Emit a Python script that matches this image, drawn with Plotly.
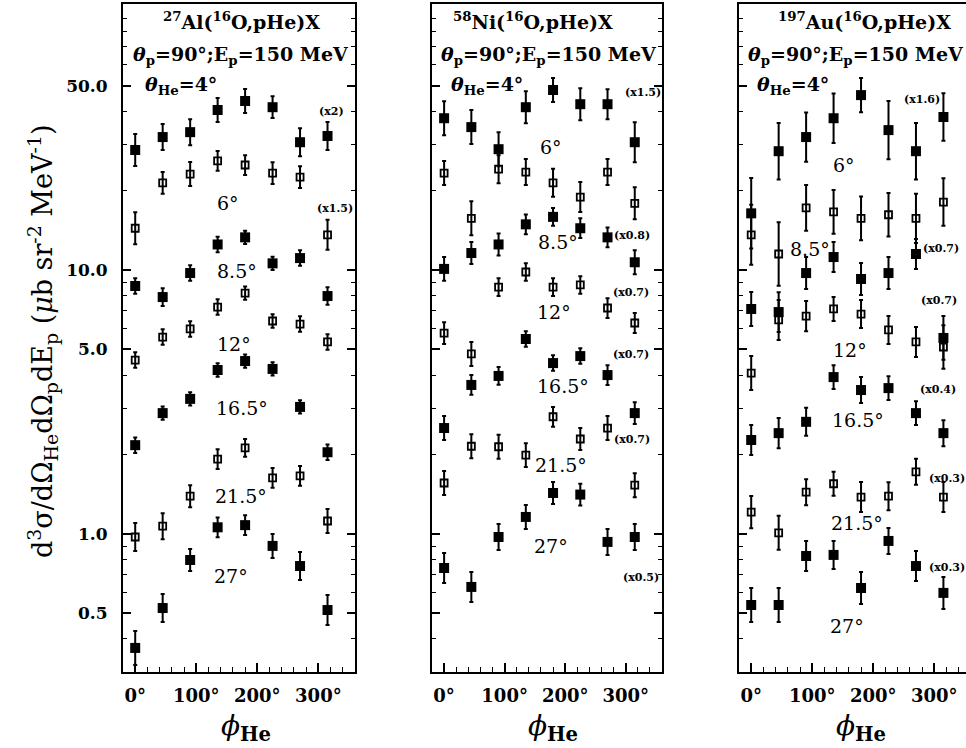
import plotly.graph_objects as go

W, H = 966, 748

# ---------------- data ----------------
phi_deg = [0, 45, 90, 135, 180, 225, 270, 315]
theta_labels = ["4°", "6°", "8.5°", "12°", "16.5°", "21.5°", "27°"]
filled_series = [True, False, True, False, True, False, True]

y_tickvals = [0.5, 1, 5, 10, 50]
y_ticktext = ["0.5", "1.0", "5.0", "10.0", "50.0"]
x_tickvals = [0, 100, 200, 300]
x_ticktext = ["0°", "100°", "200°", "300°"]

# 27Al (values as plotted, scale factors already applied)
al_4 = [28.5, 31.9, 33.3, 40.4, 43.7, 41.4, 30.5, 32.2]
al_6 = [14.4, 21.4, 23.1, 25.9, 25.0, 23.3, 22.5, 13.6]
al_8p5 = [8.70, 7.90, 9.74, 12.5, 13.3, 10.6, 11.1, 7.97]
al_12 = [4.56, 5.57, 5.98, 7.24, 8.18, 6.41, 6.24, 5.34]
al_16p5 = [2.17, 2.87, 3.25, 4.18, 4.52, 4.22, 3.03, 2.04]
al_21p5 = [0.974, 1.07, 1.39, 1.92, 2.12, 1.63, 1.66, 1.12]
al_27 = [0.370, 0.524, 0.797, 1.06, 1.08, 0.901, 0.756, 0.515]

# relative errors
al_4_err = [0.15, 0.12, 0.12, 0.11, 0.11, 0.10, 0.13, 0.13]
al_6_err = [0.15, 0.10, 0.11, 0.09, 0.09, 0.10, 0.10, 0.14]
al_8p5_err = [0.07, 0.08, 0.07, 0.07, 0.06, 0.06, 0.07, 0.08]
al_12_err = [0.07, 0.07, 0.07, 0.07, 0.06, 0.06, 0.07, 0.07]
al_16p5_err = [0.07, 0.06, 0.06, 0.06, 0.06, 0.06, 0.06, 0.07]
al_21p5_err = [0.13, 0.12, 0.10, 0.09, 0.08, 0.09, 0.09, 0.11]
al_27_err = [0.16, 0.13, 0.10, 0.09, 0.09, 0.11, 0.13, 0.14]

# 58Ni
ni_4 = [37.6, 34.8, 28.7, 41.4, 48.1, 42.5, 42.5, 30.5]
ni_6 = [23.3, 15.7, 24.1, 23.5, 21.4, 18.9, 23.5, 17.9]
ni_8p5 = [10.1, 11.6, 12.5, 14.9, 15.9, 14.4, 13.3, 10.7]
ni_12 = [5.77, 4.81, 8.62, 9.83, 8.62, 8.78, 7.18, 6.30]
ni_16p5 = [2.52, 3.67, 3.97, 5.48, 4.44, 4.72, 4.00, 2.87]
ni_21p5 = [1.56, 2.15, 2.14, 1.99, 2.78, 2.29, 2.52, 1.53]
ni_27 = [0.743, 0.630, 0.974, 1.16, 1.43, 1.41, 0.933, 0.974]

ni_4_err = [0.16, 0.16, 0.16, 0.15, 0.11, 0.15, 0.14, 0.19]
ni_6_err = [0.11, 0.16, 0.13, 0.12, 0.13, 0.14, 0.12, 0.15]
ni_8p5_err = [0.11, 0.10, 0.10, 0.09, 0.08, 0.09, 0.09, 0.11]
ni_12_err = [0.10, 0.11, 0.08, 0.08, 0.08, 0.08, 0.09, 0.09]
ni_16p5_err = [0.11, 0.09, 0.08, 0.07, 0.07, 0.07, 0.09, 0.10]
ni_21p5_err = [0.11, 0.11, 0.11, 0.11, 0.09, 0.10, 0.11, 0.11]
ni_27_err = [0.14, 0.14, 0.12, 0.11, 0.10, 0.10, 0.12, 0.12]

# 197Au
au_4 = [16.4, 28.2, 31.9, 37.6, 46.0, 33.9, 28.2, 38.0]
au_6 = [13.6, 11.5, 17.2, 16.6, 15.7, 16.2, 15.7, 18.1]
au_8p5 = [7.12, 6.93, 9.74, 11.2, 9.25, 9.74, 11.5, 5.53]
au_12 = [4.07, 6.47, 6.69, 7.12, 6.81, 5.93, 5.34, 5.11]
au_16p5 = [2.27, 2.41, 2.66, 3.93, 3.51, 3.57, 2.87, 2.41]
au_21p5 = [1.21, 1.01, 1.44, 1.55, 1.38, 1.39, 1.72, 1.38]
au_27 = [0.538, 0.538, 0.825, 0.833, 0.624, 0.941, 0.756, 0.598]

au_4_err = [0.36, 0.28, 0.24, 0.24, 0.16, 0.29, 0.28, 0.23]
au_6_err = [0.30, 0.32, 0.22, 0.21, 0.21, 0.21, 0.24, 0.23]
au_8p5_err = [0.16, 0.19, 0.15, 0.14, 0.15, 0.15, 0.14, 0.21]
au_12_err = [0.16, 0.19, 0.14, 0.11, 0.13, 0.13, 0.14, 0.21]
au_16p5_err = [0.14, 0.14, 0.13, 0.11, 0.12, 0.11, 0.11, 0.12]
au_21p5_err = [0.15, 0.16, 0.12, 0.11, 0.14, 0.13, 0.12, 0.14]
au_27_err = [0.16, 0.16, 0.14, 0.13, 0.15, 0.12, 0.14, 0.15]

al_scales = ["(x2)", "(x1.5)", "", "", "", "", ""]
ni_scales = ["(x1.5)", "", "(x0.8)", "(x0.7)", "(x0.7)", "(x0.7)", "(x0.5)"]
au_scales = ["(x1.6)", "(x0.7)", "(x0.7)", "", "(x0.4)", "(x0.3)", "(x0.3)"]

# ---------------- layout helpers ----------------
def px(x):
    return x / W

def py(y):
    return 1 - y / H

SERIF = "DejaVu Serif"
Y_RANGE = [-0.523, 2.008]
Y_DOMAIN = [py(672), py(4)]

panels = [
    dict(series=[al_4, al_6, al_8p5, al_12, al_16p5, al_21p5, al_27],
         errs=[al_4_err, al_6_err, al_8p5_err, al_12_err, al_16p5_err, al_21p5_err, al_27_err],
         dom=[px(123), px(355)], xr=[-20, 360], right=True),
    dict(series=[ni_4, ni_6, ni_8p5, ni_12, ni_16p5, ni_21p5, ni_27],
         errs=[ni_4_err, ni_6_err, ni_8p5_err, ni_12_err, ni_16p5_err, ni_21p5_err, ni_27_err],
         dom=[px(432), px(662)], xr=[-20, 360], right=True),
    dict(series=[au_4, au_6, au_8p5, au_12, au_16p5, au_21p5, au_27],
         errs=[au_4_err, au_6_err, au_8p5_err, au_12_err, au_16p5_err, au_21p5_err, au_27_err],
         dom=[px(739), 1.0], xr=[-20, 352], right=False),
]

fig = go.Figure()

for i, p in enumerate(panels):
    k = "" if i == 0 else str(i + 1)
    for vals, rel, filled in zip(p["series"], p["errs"], filled_series):
        plus = [v * r for v, r in zip(vals, rel)]
        minus = [v * r / (1 + r) for v, r in zip(vals, rel)]
        fig.add_trace(go.Scatter(
            x=phi_deg, y=vals, mode="markers",
            xaxis="x" + k, yaxis="y" + k,
            marker=dict(symbol="square" if filled else "square-open",
                        size=10 if filled else 7, color="black",
                        line=dict(width=0 if filled else 1.8, color="black")),
            error_y=dict(type="data", symmetric=False, array=plus, arrayminus=minus,
                         thickness=2, width=2, color="black"),
            showlegend=False, hoverinfo="skip"))

    fig.update_layout(**{
        "xaxis" + k: dict(
            domain=p["dom"], range=p["xr"], anchor="y" + k,
            showline=True, linecolor="black", linewidth=2, mirror=True,
            showgrid=False, zeroline=False,
            tickmode="array", tickvals=x_tickvals, ticktext=x_ticktext,
            ticks="inside", ticklen=9, tickwidth=1.5, tickcolor="black",
            minor=dict(tickmode="linear", tick0=0, dtick=20, ticks="inside",
                       ticklen=5, tickwidth=1.2, tickcolor="black", showgrid=False),
            ticklabelstandoff=6,
            tickfont=dict(family=SERIF, size=18, color="black", weight="bold"),
        ),
        "yaxis" + k: dict(
            domain=Y_DOMAIN, type="log", range=Y_RANGE, anchor="x" + k,
            showline=True, linecolor="black", linewidth=2,
            mirror="ticks" if p["right"] else False,
            showgrid=False, zeroline=False,
            tickmode="array", tickvals=y_tickvals,
            ticktext=y_ticktext if i == 0 else [""] * len(y_tickvals),
            showticklabels=(i == 0),
            ticks="inside", ticklen=8, tickwidth=1.5, tickcolor="black",
            minor=dict(tickmode="array",
                       tickvals=[0.4, 0.6, 0.7, 0.8, 0.9, 2, 3, 4, 6, 7, 8, 9,
                                 20, 30, 40, 60, 70, 80, 90],
                       ticks="inside", ticklen=4, tickwidth=1.2, tickcolor="black",
                       showgrid=False),
            ticklabelstandoff=10,
            tickfont=dict(family=SERIF, size=17, color="black", weight="bold"),
        ),
    })

ann = []

def text(x, y, s, size=18, bold=True, anchor="center"):
    ann.append(dict(x=px(x), y=py(y), xref="paper", yref="paper",
                    text=("<b>" + s + "</b>") if bold else s, showarrow=False,
                    xanchor=anchor, yanchor="middle",
                    font=dict(family=SERIF, size=size, color="black")))

# panel titles
titles = [("<sup>27</sup>Al(<sup>16</sup>O,pHe)X", 241),
          ("<sup>58</sup>Ni(<sup>16</sup>O,pHe)X", 533),
          ("<sup>197</sup>Au(<sup>16</sup>O,pHe)X", 864)]
line2_x = [241, 549, 856]
line3_x = [181, 487, 793]
for (t, tx), l2, l3 in zip(titles, line2_x, line3_x):
    text(tx, 21, t, size=19)
    text(l2, 56, "<i>θ</i><sub>p</sub>=90°;E<sub>p</sub>=150 MeV", size=19)
    text(l3, 85, "<i>θ</i><sub>He</sub>=4°", size=19)

# angle labels for the lower series
al_lab_pos = [(228, 203), (237, 271), (234, 344), (242, 408), (241, 496), (231, 576)]
ni_lab_pos = [(551, 147), (558, 242), (554, 312), (563, 386), (561, 465), (551, 546)]
au_lab_pos = [(844, 165), (810, 249), (850, 350), (858, 420), (857, 523), (847, 626)]
for pos in (al_lab_pos, ni_lab_pos, au_lab_pos):
    for lab, (x, y) in zip(theta_labels[1:], pos):
        text(x, y, lab, size=19, bold=False)

# scale-factor labels
al_sc_pos = [(331, 112), (335, 208)]
ni_sc_pos = [(643, 92), None, (632, 235), (631, 292), (631, 354), (632, 439), (641, 577)]
au_sc_pos = [(922, 100), (941, 248), (939, 300), None, (938, 389), (947, 478), (947, 567)]
for labs, poss in ((al_scales, al_sc_pos), (ni_scales, ni_sc_pos), (au_scales, au_sc_pos)):
    for lab, pos in zip(labs, poss):
        if lab and pos:
            text(pos[0], pos[1], lab, size=11)

# x-axis titles
for cx in (246, 553, 861):
    text(cx, 727, "<i>ϕ</i><sub><b>He</b></sub>", size=28, bold=False)

# y-axis title
ann.append(dict(x=px(42), y=py(342), xref="paper", yref="paper", textangle=-90,
                text="d<sup>3</sup>σ/dΩ<sub>He</sub>dΩ<sub>p</sub>dE<sub>p</sub> (<i>μ</i>b sr<sup>-2</sup> MeV<sup>-1</sup>)",
                showarrow=False, xanchor="center", yanchor="middle",
                font=dict(family=SERIF, size=27, color="black")))

fig.update_layout(width=W, height=H, margin=dict(l=0, r=0, t=0, b=0),
                  paper_bgcolor="white", plot_bgcolor="white",
                  annotations=ann, showlegend=False)

fig.write_html("out.html")
